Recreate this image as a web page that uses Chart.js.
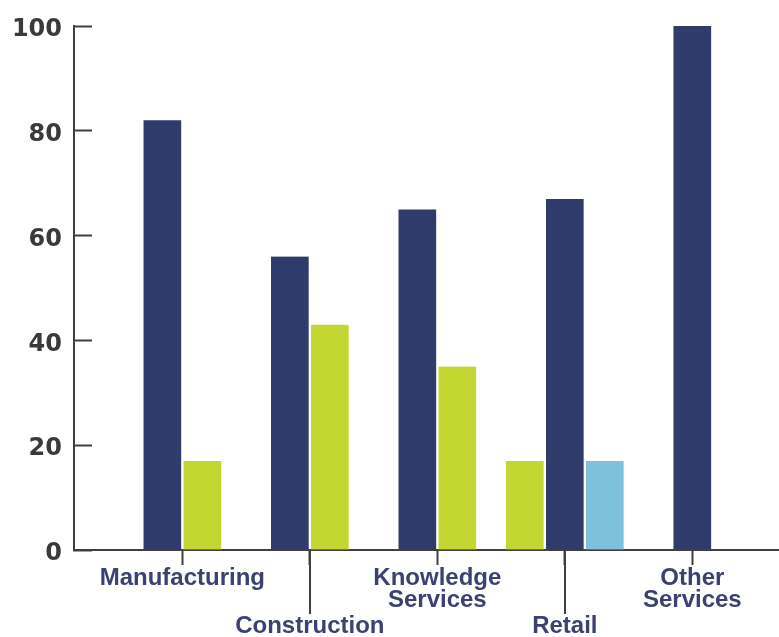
<!DOCTYPE html>
<html>
<head>
<meta charset="utf-8">
<script src="https://cdn.jsdelivr.net/npm/chart.js@4/dist/chart.umd.min.js"></script>
<style>
  html, body { margin: 0; padding: 0; background: #fff; }
  #wrap { width: 779px; height: 637px; }
</style>
</head>
<body>
<div id="wrap"><canvas id="chart" width="779" height="637"></canvas></div>
<script>
const categories = ['Manufacturing', 'Construction', 'Knowledge Services', 'Retail', 'Other Services'];
const tickLabels = [['Manufacturing'], ['Construction'], ['Knowledge', 'Services'], ['Retail'], ['Other', 'Services']];
const navyValues = [82, 56, 65, 67, 100];
const greenValues = [17, 43, 35, 17, null];
const blueValues = [null, null, null, 17, null];
const yTicks = [0, 20, 40, 60, 80, 100];

// Retail shows its green bar on the left of the navy one
const greenFirst = [false, false, false, true, false];
// labels that hang lower, on a long tick
const lowered = [false, true, false, true, false];

const navy = '#2f3b6b';
const green = '#c4d631';
const blue = '#7fc1db';
const axisColor = '#404040';

function points(values, keep) {
    return values.map((v, i) => ({ x: i, y: keep ? (keep(i) ? v : null) : v }));
}

function barSet(values, color) {
    return {
        data: values,
        backgroundColor: color,
        borderColor: 'rgba(0,0,0,0)',
        borderWidth: { left: 1.5, right: 1.5, top: 0, bottom: 0 },
        barThickness: 40,
        skipNull: true
    };
}

const longTicks = {
    id: 'longTicks',
    afterDraw(chart) {
        const ctx = chart.ctx;
        const x = chart.scales.x;
        ctx.save();
        ctx.strokeStyle = axisColor;
        ctx.lineWidth = 2;
        lowered.forEach((low, i) => {
            if (!low) return;
            const px = Math.round(x.getPixelForValue(i));
            ctx.beginPath();
            ctx.moveTo(px, x.top);
            ctx.lineTo(px, x.top + 64);
            ctx.stroke();
        });
        ctx.restore();
    }
};

new Chart('chart', {
    type: 'bar',
    data: {
        datasets: [
            barSet(points(greenValues, i => greenFirst[i]), green),
            barSet(points(navyValues), navy),
            barSet(points(greenValues, i => !greenFirst[i]), green),
            barSet(points(blueValues), blue)
        ]
    },
    plugins: [longTicks],
    options: {
        responsive: false,
        animation: false,
        layout: { padding: { top: 26, right: 0, bottom: 0, left: 0 } },
        plugins: {
            legend: { display: false },
            tooltip: { enabled: false }
        },
        scales: {
            x: {
                type: 'linear',
                offset: false,
                min: -0.85,
                max: 4.68,
                afterBuildTicks: s => { s.ticks = categories.map((c, i) => ({ value: i })); },
                afterFit: s => { s.height = 87; s.paddingLeft = 0; s.paddingRight = 0; },
                border: { color: axisColor, width: 2 },
                grid: {
                    offset: false,
                    drawOnChartArea: false,
                    tickLength: 15,
                    tickColor: axisColor,
                    tickWidth: 2
                },
                ticks: {
                    autoSkip: false,
                    maxRotation: 0,
                    minRotation: 0,
                    padding: 3,
                    color: '#3b4273',
                    font: c => ({
                        family: "'Liberation Sans', Arial, sans-serif",
                        size: 24,
                        weight: 'bold',
                        lineHeight: lowered[c.index] ? 1.61 : 0.9
                    }),
                    callback: v => {
                        const lines = tickLabels[v] || '';
                        return lowered[v] ? [''].concat(lines) : lines;
                    }
                }
            },
            y: {
                min: 0,
                max: 100,
                afterBuildTicks: s => { s.ticks = yTicks.map(v => ({ value: v })); },
                afterFit: s => { s.width = 74; s.paddingTop = 0; s.paddingBottom = 0; },
                border: { color: axisColor, width: 2 },
                grid: {
                    drawOnChartArea: false,
                    tickLength: -18,
                    tickColor: axisColor,
                    tickWidth: 2
                },
                ticks: {
                    padding: 30,
                    labelOffset: 4,
                    color: '#3a3a3a',
                    font: { family: "'DejaVu Sans', sans-serif", size: 24, weight: 'bold' }
                }
            }
        }
    }
});
</script>
</body>
</html>
